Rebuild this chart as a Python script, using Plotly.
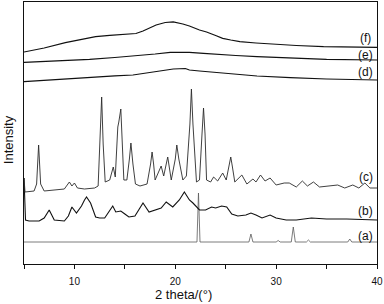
import plotly.graph_objects as go

# ---- data (2 theta in degrees, intensity in arbitrary offset units) ----
two_theta_a = [5, 22.15, 22.3, 22.45, 27.3, 27.5, 27.7, 30.0, 30.2, 30.4, 31.5, 31.7, 31.9,
               33.0, 33.2, 33.4, 37.1, 37.3, 37.5, 40]
int_a = [22, 22, 71, 22, 22, 30, 22, 22, 23.5, 22, 22, 37, 22,
         22, 24, 22, 22, 25, 22, 22]

two_theta_b = [5.0, 5.15, 5.5, 6.5, 7.0, 7.5, 8.0, 9.0, 9.4, 9.75, 10.2, 10.7, 11.0, 11.2, 11.6,
               12.1, 12.5, 13.0, 13.4, 13.8, 14.1, 14.6, 15.0, 15.4, 16.0, 16.4, 16.8, 17.4,
               18.1, 18.6, 19.1, 19.75, 20.4, 20.9, 21.4, 21.75, 22.4, 23.0, 23.6, 24.0, 24.6,
               25.1, 25.6, 26.2, 27.0, 27.5, 28.0, 28.6, 29.4, 30.0, 31.0, 32.0, 33.5, 35.0,
               37.0, 40.0]
int_b = [86, 44, 43, 43, 46, 54, 44, 43, 48, 57, 51, 58, 64, 67, 61,
         47, 46, 46, 52, 58, 52, 53, 50, 47, 48, 54, 61, 52,
         54, 56, 62, 57, 64, 72, 64, 61, 54, 54, 57, 56, 58,
         57, 50, 48, 49, 51, 49, 46, 49, 46, 44, 44, 46, 45,
         45, 44]

two_theta_c = [5.0, 5.1, 6.0, 6.25, 6.45, 6.65, 7.0, 8.0, 9.0, 9.5, 9.75, 10.0, 10.3, 11.0,
               12.0, 12.35, 12.55, 12.7, 12.85, 13.05, 13.5, 13.85, 14.05, 14.3, 14.4, 14.6,
               14.9, 15.2, 15.45, 15.6, 15.8, 16.05, 16.5, 17.2, 17.55, 17.7, 17.85, 18.0,
               18.6, 18.85, 19.25, 19.6, 20.0, 20.15, 20.35, 20.75, 21.1, 21.45, 21.6, 21.75,
               22.1, 22.4, 22.65, 22.8, 22.95, 23.1, 23.5, 23.8, 24.2, 24.7, 25.05, 25.35,
               25.5, 25.65, 25.9, 26.6, 27.1, 27.7, 28.0, 28.45, 28.9, 29.4, 30.0, 30.8,
               31.3, 32.0, 32.6, 33.1, 33.7, 34.3, 35.0, 35.6, 36.1, 36.8, 37.6, 38.2, 38.8,
               39.3, 40.0]
int_c = [86, 72, 73, 80, 119, 80, 73, 74, 75, 82, 78, 81, 76, 75,
         76, 78, 120, 167, 120, 82, 84, 97, 87, 137, 142, 155,
         84, 84, 105, 121, 100, 80, 78, 80, 100, 112, 100, 84,
         98, 88, 107, 84, 105, 119, 105, 84, 88, 140, 175, 140,
         82, 84, 130, 156, 130, 84, 82, 87, 83, 91, 84, 98,
         107, 98, 82, 89, 80, 85, 82, 89, 83, 86, 79, 81,
         81, 77, 83, 78, 82, 77, 78, 79, 79, 76, 79, 76, 81,
         76, 76]

two_theta_d = [5, 8, 11.5, 12.4, 14, 15.8, 16.5, 18.2, 19.8, 21.0, 21.4, 22.4, 23.1, 24.7,
               26.5, 28.1, 31.4, 35, 40]
int_d = [182.3, 184.5, 186.7, 187.3, 188.2, 189, 190, 193, 195, 195.5, 194, 193, 192.3, 191.3,
         189.5, 188, 186.3, 185, 184]

two_theta_e = [5, 8, 11.5, 14, 16.5, 18, 19.5, 20.5, 21.4, 22.8, 24.7, 26, 28.1, 31.4, 35, 40]
int_e = [201.7, 203, 204.7, 206.5, 208.3, 210, 211.7, 212, 211.7, 210.7, 209, 208.5, 207.3,
         205.7, 204.7, 204]

two_theta_f = [5, 7, 9.1, 10.9, 12.1, 13.5, 15.1, 16.1, 16.8, 17.5, 18.1, 19.0, 19.8, 20.75,
               21.4, 22.4, 23.1, 24.0, 24.7, 25.5, 26.4, 28, 29.7, 32, 34.7, 40]
int_f = [212, 216, 221.3, 225, 227.3, 228.7, 229.7, 230.5, 233, 236, 239, 241.5, 242.2, 240,
         238, 234, 232, 228.5, 225.7, 224, 222.3, 221, 219.7, 218.5, 217.3, 216.7]

labels = ["(a)", "(b)", "(c)", "(d)", "(e)", "(f)"]
label_y = [28, 53, 87, 192, 209, 226]
label_x = 38.9

x_ticks = [5, 10, 15, 20, 25, 30, 35, 40]
x_tick_text = ["", "10", "", "20", "", "30", "", "40"]

series = [
    (two_theta_a, int_a, "#5a5a5a", 0.8),
    (two_theta_b, int_b, "#111111", 1.1),
    (two_theta_c, int_c, "#2a2a2a", 0.9),
    (two_theta_d, int_d, "#111111", 1.2),
    (two_theta_e, int_e, "#111111", 1.2),
    (two_theta_f, int_f, "#111111", 1.2),
]

fig = go.Figure()
for xs, ys, col, w in series:
    fig.add_trace(go.Scatter(x=xs, y=ys, mode="lines",
                             line=dict(color=col, width=w), showlegend=False,
                             hoverinfo="skip"))

font_family = "Arial, Liberation Sans, sans-serif"
for lab, ly in zip(labels, label_y):
    fig.add_annotation(x=label_x, y=ly, xref="x", yref="y", text=lab, showarrow=False,
                       font=dict(family=font_family, size=12, color="#111"),
                       xanchor="center", yanchor="middle")

fig.add_annotation(x=0.453, y=-0.118, xref="paper", yref="paper", text="2 theta/(°)",
                   showarrow=False, font=dict(family=font_family, size=13, color="#111"),
                   xanchor="center", yanchor="middle")
fig.add_annotation(x=-0.045, y=0.473, xref="paper", yref="paper", text="Intensity",
                   textangle=-90, showarrow=False,
                   font=dict(family=font_family, size=13, color="#111"),
                   xanchor="center", yanchor="middle")

fig.update_layout(
    width=384, height=304,
    margin=dict(l=24, r=7, t=2, b=40),
    paper_bgcolor="white", plot_bgcolor="white",
    font=dict(family=font_family, size=10, color="#111"),
)
fig.update_xaxes(range=[5, 40], tickvals=x_ticks, ticktext=x_tick_text,
                 ticks="outside", ticklen=4, tickwidth=1, tickcolor="#111",
                 showline=True, linecolor="#111", linewidth=1, mirror=True,
                 showgrid=False, zeroline=False, tickfont=dict(size=10),
                 ticklabelstandoff=4)
fig.update_yaxes(range=[0, 262], showticklabels=False, ticks="",
                 showline=True, linecolor="#111", linewidth=1, mirror=True,
                 showgrid=False, zeroline=False)

fig.write_html("out.html", config={"displayModeBar": False, "staticPlot": True})

# remove the default page margin so the figure sits at the window's top-left corner
with open("out.html", "r", encoding="utf-8") as fh:
    html = fh.read()
html = html.replace("<head>", "<head><style>html,body{margin:0;padding:0;overflow:hidden;}</style>", 1)
with open("out.html", "w", encoding="utf-8") as fh:
    fh.write(html)
